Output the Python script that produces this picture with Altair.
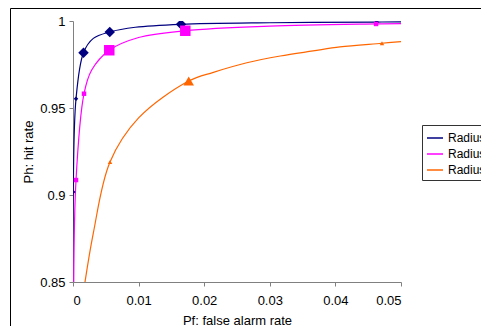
import altair as alt
import pandas as pd

# ---- data ----
series_names = ["Radius 1", "Radius 2", "Radius 3"]
series_colors = ["#000080", "#FF00FF", "#FF6600"]
series_shapes = ["diamond", "square", "triangle-up"]

# smooth curve samples (Pf, Ph)
r1_curve_pf = [0.0, 0.00004, 0.00046, 0.0016, 0.0031, 0.0056, 0.0095, 0.01646, 0.03, 0.0463, 0.05]
r1_curve_ph = [0.84, 0.9017, 0.9553, 0.9818, 0.9900, 0.9937, 0.9964, 0.9981, 0.9990, 0.9994, 0.9995]

r2_curve_pf = [0.0001, 0.00046, 0.00168, 0.00285, 0.00553, 0.0100, 0.01712, 0.03, 0.0462, 0.05]
r2_curve_ph = [0.84, 0.9086, 0.9582, 0.9718, 0.9832, 0.9905, 0.9944, 0.9970, 0.9983, 0.9985]

r3_curve_pf = [0.00163, 0.00309, 0.00564, 0.0100, 0.01764, 0.0214, 0.0265, 0.0316, 0.0366, 0.0407, 0.0471, 0.05]
r3_curve_ph = [0.845, 0.878, 0.919, 0.9443, 0.9655, 0.9705, 0.9760, 0.9799, 0.9828, 0.9851, 0.9872, 0.9882]

# data markers (Pf, Ph, marker kind)
r1_mark_pf = [0.00004, 0.00046, 0.0016, 0.0056, 0.01646, 0.0463]
r1_mark_ph = [0.9017, 0.9553, 0.9818, 0.9937, 0.9981, 0.9994]
r1_mark_kind = ["minor", "minor", "major", "major", "major", "minor"]

r2_mark_pf = [0.00046, 0.00168, 0.00553, 0.01712, 0.0462]
r2_mark_ph = [0.9086, 0.9582, 0.9832, 0.9944, 0.9983]
r2_mark_kind = ["minor", "minor", "major", "major", "minor"]

r3_mark_pf = [0.00564, 0.01764, 0.0471]
r3_mark_ph = [0.919, 0.9655, 0.9872]
r3_mark_kind = ["minor", "major", "minor"]

x_ticks = [0, 0.01, 0.02, 0.03, 0.04, 0.05]
y_ticks = [0.85, 0.9, 0.95, 1.0]

# ---- tables ----
curves = pd.concat([
    pd.DataFrame({"series": n, "pf": px, "ph": py})
    for n, px, py in zip(series_names,
                         [r1_curve_pf, r2_curve_pf, r3_curve_pf],
                         [r1_curve_ph, r2_curve_ph, r3_curve_ph])
], ignore_index=True)

mark_tables = [
    pd.DataFrame({"pf": px, "ph": py, "kind": k})
    for px, py, k in zip([r1_mark_pf, r2_mark_pf, r3_mark_pf],
                         [r1_mark_ph, r2_mark_ph, r3_mark_ph],
                         [r1_mark_kind, r2_mark_kind, r3_mark_kind])
]

x_enc = alt.X("pf:Q",
              scale=alt.Scale(domain=[0, 0.05], nice=False, zero=False),
              axis=alt.Axis(values=x_ticks, format="~g", title="Pf: false alarm rate",
                            grid=False, labelPadding=8,
                            titleBaseline="alphabetic", titleY=42))
y_enc = alt.Y("ph:Q",
              scale=alt.Scale(domain=[0.85, 1.0], nice=False, zero=False),
              axis=alt.Axis(values=y_ticks, format="~g", title="Ph: hit rate",
                            grid=False, labelPadding=4,
                            titleBaseline="alphabetic", titleAngle=270,
                            titleX=-41, titleY=130.5, titleAlign="center"))

frame = alt.Chart(alt.Data(values=[{}])).mark_rect(
    fillOpacity=0, stroke="black", strokeWidth=1
).encode(x=alt.value(-62.5), x2=alt.value(700), y=alt.value(-12.5), y2=alt.value(700))

lines = alt.Chart(curves).mark_line(interpolate="catmull-rom", clip=True, strokeWidth=1.2).encode(
    x=x_enc, y=y_enc,
    color=alt.Color("series:N", scale=alt.Scale(domain=series_names, range=series_colors),
                    legend=alt.Legend(title=None, orient="none", legendX=349, legendY=104,
                                      symbolType="stroke", symbolSize=256, symbolStrokeWidth=1.5,
                                      labelFontSize=12, labelOffset=4, rowPadding=1,
                                      padding=4, strokeColor="#333333", fillColor="white")),
    order="pf:Q",
)

size_enc = alt.Size("kind:N", scale=alt.Scale(domain=["minor", "major"], range=[20, 110]), legend=None)
point_layers = [
    alt.Chart(tbl).mark_point(filled=True, opacity=1, clip=True, shape=shp, color=col, strokeWidth=0)
    .encode(x=x_enc, y=y_enc, size=size_enc)
    for tbl, shp, col in zip(mark_tables, series_shapes, series_colors)
]

chart = alt.layer(frame, lines, *point_layers).properties(
    width=328, height=261,
    autosize=alt.AutoSizeParams(type="none"),
    padding={"left": 65, "top": 13, "right": 80, "bottom": 44},
).configure_view(stroke=None).configure_axis(
    domainColor="#808080", tickColor="#808080", tickSize=4,
    labelColor="black", titleColor="black",
    labelFont="Liberation Sans", titleFont="Liberation Sans",
    labelFontSize=13, titleFontSize=13, titleFontWeight="normal",
).configure_legend(labelFont="Liberation Sans", labelColor="black")

chart.save("out.html", embed_options={"renderer": "svg", "actions": False})
